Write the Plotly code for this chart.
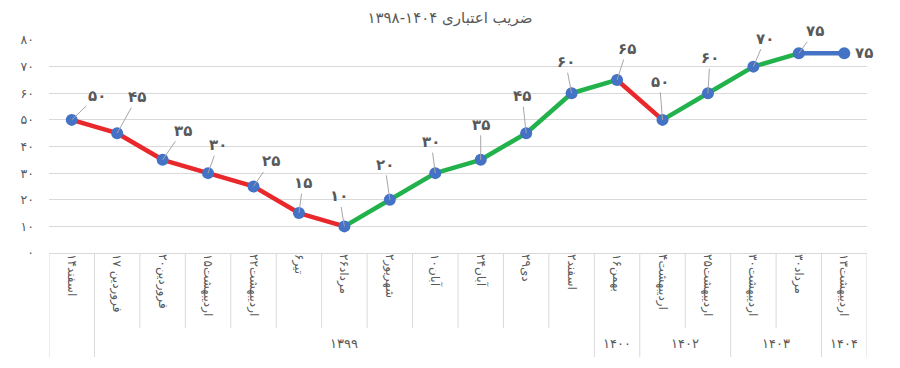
import plotly.graph_objects as go

# ---- data ----
categories = ["۱۴اسفند", "۱۷ فروردین", "۲۰فروردین", "۱۵اردیبهشت", "۲۲اردیبهشت", "۶تیر",
              "۲۶مرداد", "۲شهریور", "۱۰آبان", "۲۴آبان", "۲۹دی", "۲اسفند", "۱۶بهمن",
              "۴اردیبهشت", "۲۵اردیبهشت", "۳۰اردیبهشت", "۳۰مرداد", "۱۳اردیبهشت"]
values = [50, 45, 35, 30, 25, 15, 10, 20, 30, 35, 45, 60, 65, 50, 60, 70, 75, 75]
year_groups = ["", "۱۳۹۹", "۱۴۰۰", "۱۴۰۲", "۱۴۰۳", "۱۴۰۴"]
year_group_sizes = [1, 11, 1, 2, 2, 1]
y_tick_values = [0, 10, 20, 30, 40, 50, 60, 70, 80]
y_tick_labels = ["۰", "۱۰", "۲۰", "۳۰", "۴۰", "۵۰", "۶۰", "۷۰", "۸۰"]
title_text = "ضریب اعتباری ۱۴۰۴-۱۳۹۸"

# ---- styling ----
FONT = "DejaVu Sans"
GRAY_TXT = "#595959"
GRID = "#d9d9d9"
RED = "#e8282b"
GREEN = "#22b24c"
BLUE = "#4472c4"
# label offsets (pixels) for data labels
label_offsets = [(25, -24), (20, -36), (20, -29), (10, -28), (17, -25), (4, -30),
                 (-5, -30), (-5, -35), (-4, -31), (0, -35), (-4, -37), (-6, -31),
                 (10, -31), (-3, -38), (2, -35), (12, -28), (16, -22), (20, 0)]

def to_fa(n):
    return str(n).translate(str.maketrans("0123456789", "۰۱۲۳۴۵۶۷۸۹"))

xs = list(range(len(categories)))
fig = go.Figure()

# coloured segments
for i in range(len(values) - 1):
    if values[i + 1] < values[i]:
        c = RED
    elif values[i + 1] > values[i]:
        c = GREEN
    else:
        c = BLUE
    fig.add_trace(go.Scatter(x=[xs[i], xs[i + 1]], y=[values[i], values[i + 1]],
                             mode="lines", line=dict(color=c, width=4.5),
                             hoverinfo="skip", showlegend=False))

fig.add_trace(go.Scatter(x=xs, y=values, mode="markers",
                         marker=dict(color=BLUE, size=12),
                         showlegend=False))

annotations = []
for i, v in enumerate(values):
    ax, ay = label_offsets[i]
    last = i == len(values) - 1
    annotations.append(dict(x=xs[i], y=v, xref="x", yref="y", text=to_fa(v),
                            showarrow=True, arrowhead=0, arrowwidth=1,
                            arrowcolor="rgba(166,166,166,0)" if last else "#a6a6a6",
                            ax=ax, ay=ay, standoff=0,
                            font=dict(family=FONT, size=15, color=GRAY_TXT, weight=600)))

# table lines under the axis (paper fractions of a 213px plot height)
inner_bottom = -0.352
outer_bottom = -0.488
shapes = []
pos = 0
group_bounds = [0]
for s in year_group_sizes:
    pos += s
    group_bounds.append(pos)
for k in range(len(categories) + 1):
    xb = k - 0.5
    yb = outer_bottom if k in group_bounds else inner_bottom
    shapes.append(dict(type="line", xref="x", yref="paper", x0=xb, x1=xb, y0=0, y1=yb,
                       line=dict(color=GRID, width=1)))

start = 0
for label, s in zip(year_groups, year_group_sizes):
    center = start + (s - 1) / 2
    if label:
        annotations.append(dict(x=center, y=-0.425, xref="x", yref="paper", text=label,
                                showarrow=False, xanchor="center", yanchor="middle",
                                font=dict(family=FONT, size=13, color=GRAY_TXT)))
    start += s

W, H = 892, 360
fig.update_layout(
    width=W, height=H,
    margin=dict(l=41, r=33, t=32, b=115, autoexpand=False),
    paper_bgcolor="white", plot_bgcolor="white",
    title=dict(text=title_text, x=(450 - 8) / W, xanchor="center", y=1 - 10 / H,
               yref="container", yanchor="middle",
               font=dict(family=FONT, size=15, color=GRAY_TXT)),
    annotations=annotations, shapes=shapes,
    xaxis=dict(range=[-0.5, len(categories) - 0.5], tickvals=xs, ticktext=categories,
               tickangle=90, showgrid=False, zeroline=False, showline=False,
               automargin=False,
               tickfont=dict(family=FONT, size=12, color=GRAY_TXT), ticks=""),
    yaxis=dict(range=[0, 80], tickvals=y_tick_values, ticktext=y_tick_labels,
               showgrid=True, gridcolor=GRID, gridwidth=1,
               zeroline=True, zerolinecolor=GRID, zerolinewidth=1,
               ticklabelstandoff=14, automargin=False,
               tickfont=dict(family=FONT, size=12.5, color=GRAY_TXT)),
)

fig.write_html("out.html")
